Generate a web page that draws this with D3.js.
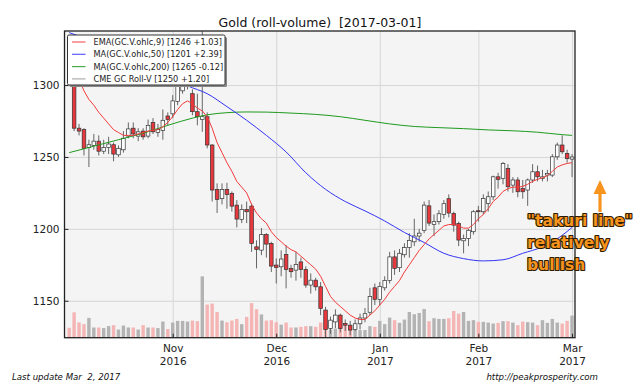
<!DOCTYPE html>
<html><head><meta charset="utf-8">
<script src="https://cdn.jsdelivr.net/npm/d3@7"></script>
<style>
body{margin:0;background:#fff;}
svg{display:block;font-family:"DejaVu Sans",sans-serif;}
</style>
</head><body>
<svg id="c" width="640" height="384"></svg>
<script>
// ---------------- DATA ----------------
const dates = [
"2016-10-03","2016-10-04","2016-10-05","2016-10-06","2016-10-07","2016-10-10","2016-10-11","2016-10-12","2016-10-13","2016-10-14",
"2016-10-17","2016-10-18","2016-10-19","2016-10-20","2016-10-21","2016-10-24","2016-10-25","2016-10-26","2016-10-27","2016-10-28",
"2016-10-31","2016-11-01","2016-11-02","2016-11-03","2016-11-04","2016-11-07","2016-11-08","2016-11-09","2016-11-10","2016-11-11",
"2016-11-14","2016-11-15","2016-11-16","2016-11-17","2016-11-18","2016-11-21","2016-11-22","2016-11-23","2016-11-25","2016-11-28",
"2016-11-29","2016-11-30","2016-12-01","2016-12-02","2016-12-05","2016-12-06","2016-12-07","2016-12-08","2016-12-09","2016-12-12",
"2016-12-13","2016-12-14","2016-12-15","2016-12-16","2016-12-19","2016-12-20","2016-12-21","2016-12-22","2016-12-23","2016-12-27",
"2016-12-28","2016-12-29","2016-12-30","2017-01-03","2017-01-04","2017-01-05","2017-01-06","2017-01-09","2017-01-10","2017-01-11",
"2017-01-12","2017-01-13","2017-01-17","2017-01-18","2017-01-19","2017-01-20","2017-01-23","2017-01-24","2017-01-25","2017-01-26",
"2017-01-27","2017-01-30","2017-01-31","2017-02-01","2017-02-02","2017-02-03","2017-02-06","2017-02-07","2017-02-08","2017-02-09",
"2017-02-10","2017-02-13","2017-02-14","2017-02-15","2017-02-16","2017-02-17","2017-02-21","2017-02-22","2017-02-23","2017-02-24",
"2017-02-27","2017-02-28","2017-03-01"];

const opens = [
1317,1313,1270,1269,1256.5,1258,1261,1254,1256.5,1258.5,
1251.5,1255,1264.5,1270,1264.5,1268,1264.5,1274,1267,1268.5,
1278.5,1280,1288.5,1296,1302,1294,1281.5,1276,1278,1258.3,
1227.4,1221,1227.4,1224.7,1216.5,1206.6,1213.5,1215.8,1187.5,1185.2,
1196,1189.9,1174.8,1173.6,1182.2,1172.4,1171.3,1177,1171.8,1160.9,
1164.3,1159.7,1143.5,1130.7,1135.3,1140,1134.2,1133,1130,1134,
1138,1142,1159,1151,1159,1164,1180.5,1173,1182,1187,
1191,1195,1199,1216,1203,1205,1210,1221,1210.7,1203.8,
1191.7,1193.3,1198,1212.6,1211.9,1217.7,1222.3,1236.2,1235,1242,
1230.4,1234,1228,1227,1234,1239.7,1235,1237.4,1237.4,1250.1,
1258.3,1252.5,1248.5];
const highs = [
1326,1315,1273,1270,1262,1266,1265,1262,1264,1260,
1258,1268,1274,1274,1270,1270,1276,1277,1273,1283,
1281,1293,1310,1308,1308,1297,1294,1337.5,1281,1259,
1231.6,1231.6,1232,1226,1220,1217,1219,1217.7,1192,1200.6,
1197,1191,1179.4,1185,1188.7,1175,1184,1180,1174,1169,
1166,1163,1145.8,1139,1144,1141,1137,1136,1137,1141,
1145,1159,1162,1163,1167,1184,1185,1186,1190,1197,
1207,1200,1219,1220,1210,1213,1220,1224,1212,1205,
1196,1200,1213,1216,1224,1226,1237,1239,1246.5,1245,
1236,1236,1234,1235,1245,1244,1241,1241,1252,1260,
1265,1255,1252];
const lows = [
1311,1268,1265,1251,1243,1255,1251,1252,1252,1247,
1250,1253,1263,1263,1261,1262,1263,1266,1264,1262,
1272,1277,1286,1294,1297,1279,1272,1267.5,1256,1219,
1211,1217,1214,1212,1201,1204,1204,1184,1172.5,1181.7,
1180,1170,1162,1167,1158.6,1166,1164,1166,1159,1155,
1157,1140,1123.5,1127,1131,1128,1129,1126,1129,1130,
1135,1140,1147,1147,1157,1162,1168,1170,1180,1180,
1188,1191,1197,1202,1195,1203,1207,1208,1198,1188,
1183,1188,1196,1205,1210,1212,1220,1228,1231,1226,
1225,1222,1221,1216,1232,1233,1233,1233,1236,1248,
1252,1246,1236];
const closes = [
1313,1270,1268,1256,1258.5,1261,1254,1256.5,1259,1252,
1256,1263,1269.5,1266,1267.5,1264,1272,1267.5,1269,1275.5,
1276,1289,1306,1303,1304,1281.5,1278,1278,1258.3,1227,
1220.5,1227.4,1223.8,1215.8,1206.8,1213.5,1211.9,1189.9,1185.7,1196,
1189.4,1174.1,1173.2,1179,1171.8,1170.2,1175.3,1171.8,1160.9,1164.3,
1159.7,1144.7,1130,1136.5,1140,1130.7,1133,1129.6,1134,1138,
1141,1153,1151,1160,1164,1180.5,1172.5,1183,1187,1192,
1195,1197,1216.5,1204,1205,1210.5,1217.5,1211,1202.6,1192.2,
1193.3,1199,1211.9,1212.2,1221.2,1222.3,1236.2,1234.4,1245.5,1229.3,
1234,1225.8,1225.8,1234,1239.7,1236.2,1236.2,1238.5,1250.1,1258.3,
1253.6,1248.8,1250];
// volume, thousand contracts
const volumes = [
100,257,154,137,200,103,103,97,117,127,
83,123,103,103,83,127,103,103,97,163,
87,153,170,170,163,173,167,620,335,345,
260,173,156,173,190,137,210,350,288,235,
173,177,156,132,153,103,103,110,117,117,
110,153,170,83,93,150,150,93,77,77,
77,117,110,170,137,203,177,150,183,260,
237,250,290,167,197,190,190,197,270,243,
260,170,177,160,160,153,143,150,167,167,
153,127,163,157,153,127,177,150,190,153,
143,170,223];
// EMA(9) as drawn
const ema9 = [
1318,1311,1304,1296,1290,1286,1281,1277,1273,1269,
1267,1265,1265,1265,1266,1267,1268,1268.5,1269,1271,
1274,1278,1283,1287,1289,1287,1284,1282,1278,1270,
1260,1253,1246,1240,1233,1229,1225,1217,1211,1207,
1204,1198,1194,1191,1188,1185.5,1184,1181,1178,1175,
1172,1167,1160,1153,1149,1146,1143,1140,1138,1137,
1137,1140,1143,1147,1151,1156,1160,1164,1170,1175,
1180,1185,1189,1193,1196,1199,1202,1203,1203,1202,
1200.5,1200.5,1203,1207,1210,1214,1219,1222,1226,1228,
1229,1229,1229.5,1231,1233,1234.5,1235.5,1237,1240,1243,
1244.5,1245.5,1246];
// MA(50) read at sample days
const ma50Days = [0,6,12,18,24,28,32,36,40,44,48,52,56,60,64,68,72,76,80,84,88,92,96,100,102];
const ma50Vals = [1336.5,1329,1321,1311,1299.5,1294,1285,1275.5,1265,1253.5,1239,1227.5,1219,1212.5,1205.5,1197.5,1190.5,1183,1179.3,1177.7,1178.5,1183,1187.5,1195.5,1201];
// MA(200) read at sample days
const ma200Days = [0,5,10,15,20,25,28,32,36,40,45,50,55,60,65,70,75,80,85,90,95,100,102];
const ma200Vals = [1253,1257.5,1262,1266.5,1272,1277,1279.3,1280.8,1281.3,1281.2,1280.5,1279.6,1278,1275.5,1273,1271.2,1270.4,1269.7,1268.8,1268.2,1267.2,1265.5,1265];

const yTicks = [1150,1200,1250,1300];
const legendLabels = ["EMA(GC.V.ohlc,9) [1246 +1.03]","MA(GC.V.ohlc,50) [1201 +2.39]","MA(GC.V.ohlc,200) [1265 -0.12]","CME GC Roll-V [1250 +1.20]"];
const titleText = "Gold (roll-volume)  [2017-03-01]";
const footLeft = "Last update Mar  2, 2017";
const footRight = "http://peakprosperity.com";
const noteLines = ['"takuri line"','relatively','bullish'];

// ---------------- DRAW ----------------
const svg = d3.select("#c");
const L=64.5, R=575, T=31, B=337.7;
const x = d3.scaleLinear().domain([-0.95,102.6]).range([L,R]);
const y = d3.scaleLinear().domain([1124.3,1337.6]).range([B,T]);
const yv = d3.scaleLinear().domain([0,d3.max(volumes)*5]).range([B,T]);
const dts = dates.map(d3.timeParse("%Y-%m-%d"));
const monthIdx = dts.map((d,i)=>i).filter(i=>i>0 && dts[i].getMonth()!==dts[i-1].getMonth());

const COL = {red:"#f23a3a", blue:"#3434f4", green:"#1f9a1f", gray:"#999",
             candleRed:"#e8383d", volRed:"#f5b5b5", volGray:"#b3b3b3", grid:"#d6d6d6"};

svg.append("rect").attr("x",L).attr("y",T).attr("width",R-L).attr("height",B-T).attr("fill","#f4f4f4");
svg.append("defs").append("clipPath").attr("id","clip").append("rect")
  .attr("x",L).attr("y",T).attr("width",R-L).attr("height",B-T);

// grids
svg.append("g").attr("transform",`translate(0,${B})`)
  .call(d3.axisBottom(x).tickValues(monthIdx).tickSize(-(B-T)).tickFormat(""))
  .call(g=>{g.select(".domain").remove(); g.selectAll("line").attr("stroke",COL.grid);});
svg.append("g").attr("transform",`translate(${L},0)`)
  .call(d3.axisLeft(y).tickValues(yTicks).tickSize(-(R-L)).tickFormat(""))
  .call(g=>{g.select(".domain").remove(); g.selectAll("line").attr("stroke",COL.grid);});

const plot = svg.append("g").attr("clip-path","url(#clip)");
const idx = d3.range(dates.length);
const up = i => closes[i] >= opens[i];
const bw = 3.6, vw = 3.4;

// volume
plot.append("g").selectAll("rect").data(idx).join("rect")
  .attr("x",i=>x(i)-vw/2).attr("width",vw)
  .attr("y",i=>yv(volumes[i])).attr("height",i=>B-yv(volumes[i]))
  .attr("fill",i=>up(i)?COL.volGray:COL.volRed);

// wicks
plot.append("g").selectAll("line").data(idx).join("line")
  .attr("x1",i=>x(i)).attr("x2",i=>x(i))
  .attr("y1",i=>y(highs[i])).attr("y2",i=>y(lows[i]))
  .attr("stroke","#666").attr("stroke-width",1);
// bodies
plot.append("g").selectAll("rect").data(idx).join("rect")
  .attr("x",i=>x(i)-bw/2).attr("width",bw)
  .attr("y",i=>y(Math.max(opens[i],closes[i])))
  .attr("height",i=>Math.max(1,Math.abs(y(opens[i])-y(closes[i]))))
  .attr("fill",i=>up(i)?"#fff":COL.candleRed)
  .attr("stroke","#333").attr("stroke-width",0.7);

// lines
const line = d3.line().curve(d3.curveMonotoneX);
plot.append("path").attr("d",line(ma200Days.map((d,k)=>[x(d),y(ma200Vals[k])])))
  .attr("fill","none").attr("stroke",COL.green).attr("stroke-width",1);
plot.append("path").attr("d",line(ma50Days.map((d,k)=>[x(d),y(ma50Vals[k])])))
  .attr("fill","none").attr("stroke",COL.blue).attr("stroke-width",1);
plot.append("path").attr("d",d3.line()(idx.map(i=>[x(i),y(ema9[i])])))
  .attr("fill","none").attr("stroke",COL.red).attr("stroke-width",1);

// frame
svg.append("rect").attr("x",L).attr("y",T).attr("width",R-L).attr("height",B-T)
  .attr("fill","none").attr("stroke","#222").attr("stroke-width",1.3);

// axes
const yAx = svg.append("g").attr("transform",`translate(${L},0)`)
  .call(d3.axisLeft(y).tickValues(yTicks).tickSize(-4).tickPadding(5).tickFormat(d3.format("d")));
yAx.select(".domain").remove();
yAx.selectAll("text").attr("font-size",10.5).attr("fill","#222").attr("font-family","DejaVu Sans");
yAx.selectAll("line").attr("stroke","#222");

const xAx = svg.append("g").attr("transform",`translate(0,${B})`)
  .call(d3.axisBottom(x).tickValues(monthIdx).tickSize(-4).tickPadding(7).tickFormat(""));
xAx.select(".domain").remove();
xAx.selectAll("line").attr("stroke","#222");
xAx.selectAll(".tick text").each(function(i){
  const t = d3.select(this).attr("font-size",10.5).attr("fill","#222").attr("font-family","DejaVu Sans");
  t.append("tspan").attr("x",0).attr("dy","0.71em").text(d3.timeFormat("%b")(dts[i]));
  t.append("tspan").attr("x",0).attr("dy","1.22em").text(d3.timeFormat("%Y")(dts[i]));
});

// legend
const lg = svg.append("g");
const lx=67.5, ly=35, lw=157.5, lh=50;
lg.append("rect").attr("x",lx+2).attr("y",ly+2).attr("width",lw).attr("height",lh).attr("fill","#888").attr("rx",1.5);
lg.append("rect").attr("x",lx).attr("y",ly).attr("width",lw).attr("height",lh).attr("fill","#fff").attr("stroke","#333").attr("stroke-width",1).attr("rx",1.5);
const lcols = [COL.red,COL.blue,COL.green,COL.gray];
legendLabels.forEach((s,k)=>{
  const yy = ly+7+k*12.3;
  lg.append("line").attr("x1",lx+4.5).attr("x2",lx+18).attr("y1",yy).attr("y2",yy).attr("stroke",lcols[k]).attr("stroke-width",1.2).attr("opacity",0.8);
  lg.append("text").attr("x",lx+26).attr("y",yy+3).attr("font-size",8.2).attr("fill","#222").text(s);
});

// title
svg.append("text").attr("x",320).attr("y",27).attr("text-anchor","middle").attr("font-size",12.5)
  .attr("fill","#111").style("white-space","pre").text(titleText);

// footer
svg.append("text").attr("x",12).attr("y",380).attr("font-size",8.6).attr("font-style","italic")
  .attr("fill","#111").style("white-space","pre").text(footLeft);
svg.append("text").attr("x",598).attr("y",380).attr("text-anchor","end").attr("font-size",8.6).attr("font-style","italic")
  .attr("fill","#111").text(footRight);

// annotation
const orange = "#f7941d";
svg.append("line").attr("x1",600).attr("x2",600).attr("y1",212).attr("y2",192)
  .attr("stroke",orange).attr("stroke-width",3.2);
svg.append("path").attr("d","M593.5,194 L606.5,194 L600,180 Z").attr("fill",orange);
noteLines.forEach((s,k)=>{
  svg.append("text").attr("x",527).attr("y",226+k*22).attr("font-size",15.5).attr("font-weight","bold")
    .attr("fill",orange).attr("stroke","#2a1a00").attr("stroke-width",2.2).attr("paint-order","stroke")
    .attr("stroke-linejoin","round").text(s);
});
</script>
</body></html>
